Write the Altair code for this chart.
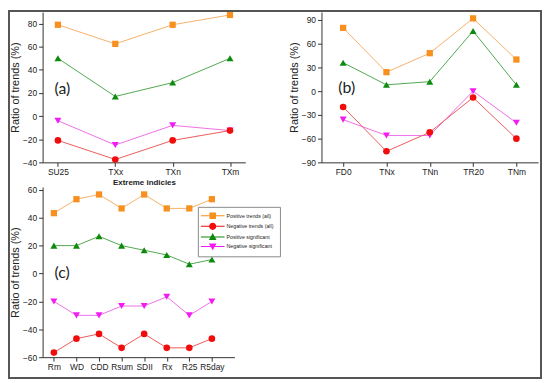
import altair as alt
import pandas as pd

# ---------------- data ----------------
series_names = ["Positive trends (all)", "Negative trends (all)",
                "Positive significant", "Negative significant"]

a_cats = ["SU25", "TXx", "TXn", "TXm"]
a_pos_all = [79, 62.5, 79, 87.5]
a_neg_all = [-21, -37.5, -21, -12.5]
a_pos_sig = [50, 17, 29, 50]
a_neg_sig = [-4, -25, -8, -12.5]

b_cats = ["FD0", "TNx", "TNn", "TR20", "TNm"]
b_pos_all = [80, 24, 48, 92, 40]
b_neg_all = [-20, -76, -52, -8, -60]
b_pos_sig = [36, 8, 12, 76, 8]
b_neg_sig = [-36, -56, -56, 0, -40]

c_cats = ["Rm", "WD", "CDD", "Rsum", "SDII", "Rx", "R25", "R5day"]
c_pos_all = [43.3, 53.3, 56.7, 46.7, 56.7, 46.7, 46.7, 53.3]
c_neg_all = [-56.7, -46.7, -43.3, -53.3, -43.3, -53.3, -53.3, -46.7]
c_pos_sig = [20, 20, 26.7, 20, 16.7, 13.3, 6.7, 10]
c_neg_sig = [-20, -30, -30, -23.3, -23.3, -16.7, -30, -20]

a_yticks = [-40, -20, 0, 20, 40, 60, 80]
b_yticks = [-90, -60, -30, 0, 30, 60, 90]
c_yticks = [-60, -40, -20, 0, 20, 40, 60]

# ---------------- styles ----------------
marker_colors = ["#F7901E", "#F20D0D", "#0E8A0E", "#F21BF2"]
line_colors = ["#F6B06A", "#EE5A5A", "#4FA84F", "#EE6FE8"]
shapes = ["square", "circle", "triangle-up", "triangle-down"]
sizes = [40, 45, 50, 50]
draw_order = [0, 2, 3, 1]

LINE = "M-4,-0.17H4V0.17H-4Z"
legend_paths = [
    LINE + "M-1.1,-1.1H1.1V1.1H-1.1Z",
    LINE + "M-1.2,0A1.2,1.2,0,1,1,1.2,0A1.2,1.2,0,1,1,-1.2,0Z",
    LINE + "M0,-1.3L1.3,1H-1.3Z",
    LINE + "M0,1.3L-1.3,-1H1.3Z",
]

FONT = "Liberation Sans"


def make_df(cats, series_vals):
    rows = []
    for s, vals in zip(series_names, series_vals):
        for i, (c, v) in enumerate(zip(cats, vals)):
            rows.append({"cat": c, "idx": i, "series": s, "value": v})
    return pd.DataFrame(rows)


def panel(cats, series_vals, width, height, ydom, yticks, xscale, xtitle,
          label, label_xy, legend=False, frame=False):
    df = make_df(cats, series_vals)
    x_axis = alt.Axis(labelAngle=0, tickSize=4, labelPadding=1.5, grid=False,
                      title=xtitle if xtitle else None,
                      titleFontWeight="bold", titleFontSize=8, titlePadding=2,
                      titleFont=FONT)
    x_enc = alt.X("cat:N", sort=cats, scale=xscale, axis=x_axis)
    y_enc = alt.Y("value:Q",
                  scale=alt.Scale(domain=ydom, nice=False, zero=False),
                  axis=alt.Axis(values=yticks, title="Ratio of trends (%)",
                                tickSize=4, labelPadding=2, titlePadding=2,
                                grid=False))
    layers = []
    for k in draw_order:
        base = alt.Chart(df).transform_filter(alt.datum.series == series_names[k])
        layers.append(base.mark_line(color=line_colors[k], strokeWidth=1).encode(
            x=x_enc, y=y_enc, order=alt.Order("idx:Q")))
        layers.append(base.mark_point(filled=True, shape=shapes[k], size=sizes[k],
                                      color=marker_colors[k], opacity=1).encode(
            x=x_enc, y=y_enc))
    one = alt.Data(values=[{"k": 1}])
    layers.append(alt.Chart(one).mark_text(
        text=label, align="left", baseline="middle", font="Lato", fontSize=16,
        color="#222").encode(x=alt.value(label_xy[0]), y=alt.value(label_xy[1])))
    if legend:
        leg = alt.Legend(orient="none", legendX=157, legendY=20, title=None,
                         fillColor="white", strokeColor="#8a8a8a", padding=6,
                         symbolSize=36, symbolOffset=6, symbolStrokeWidth=0,
                         labelFont=FONT, labelFontSize=5.3, labelColor="#222",
                         labelOffset=11, rowPadding=2.7, cornerRadius=0)
        layers.append(alt.Chart(df).transform_filter("false").mark_point(
            filled=True, opacity=1).encode(
            fill=alt.Fill("series:N", sort=series_names,
                          scale=alt.Scale(domain=series_names, range=marker_colors),
                          legend=leg),
            shape=alt.Shape("series:N", sort=series_names,
                            scale=alt.Scale(domain=series_names, range=legend_paths),
                            legend=leg)))
    if frame:
        layers.append(alt.Chart(one).mark_rect(
            fillOpacity=0, stroke="#555555", strokeWidth=2).encode(
            x=alt.value(-34), x2=alt.value(504),
            y=alt.value(-1), y2=alt.value(370)))
    return alt.layer(*layers).properties(width=width, height=height)


pa = panel(a_cats, [a_pos_all, a_neg_all, a_pos_sig, a_neg_sig], 205, 152,
           [-40, 90], a_yticks, alt.Scale(type="point", padding=0.267),
           "Extreme indicies", "(a)", (12, 78), frame=True)
pb = panel(b_cats, [b_pos_all, b_neg_all, b_pos_sig, b_neg_sig], 219, 152,
           [-90, 100], b_yticks, alt.Scale(type="point", padding=0.5),
           None, "(b)", (17, 77))
pc = panel(c_cats, [c_pos_all, c_neg_all, c_pos_sig, c_neg_sig], 194, 172,
           [-60, 62], c_yticks,
           alt.Scale(type="point", padding=0.75, align=0.333),
           None, "(c)", (12, 87), legend=True)

chart = alt.concat(pa, pb, pc, columns=2, bounds="flush",
                   spacing={"row": 25, "column": 77}).properties(
    padding=0
).resolve_scale(
    fill="independent", shape="independent"
).resolve_legend(
    fill="independent", shape="independent"
).configure_axis(
    labelFont=FONT, labelFontSize=8.5, labelColor="#222",
    titleFont=FONT, titleFontSize=11, titleFontWeight="normal", titleColor="#222",
    domainColor="#333", tickColor="#333", grid=False
).configure_view(stroke=None)

chart.save("out.html", embed_options={"renderer": "svg", "actions": False})
